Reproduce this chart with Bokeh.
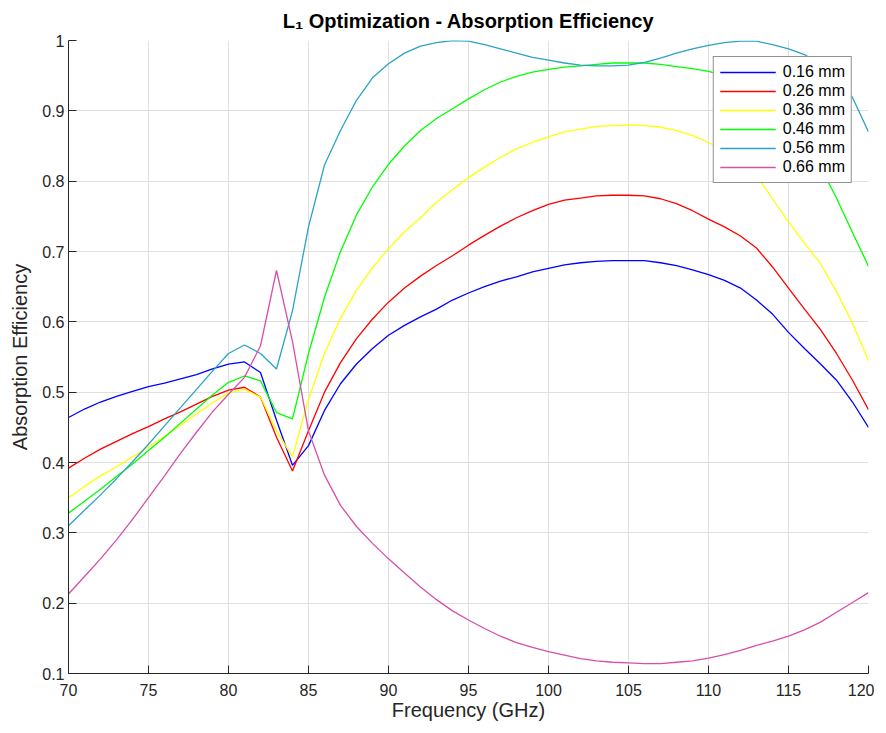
from bokeh.plotting import figure
from bokeh.models import FixedTicker, CustomJSTickFormatter, Legend, LegendItem
from bokeh.embed import file_html
from bokeh.resources import INLINE

freq = list(range(70, 121))

eff_016 = [0.464, 0.476, 0.486, 0.494, 0.501, 0.508, 0.513, 0.519, 0.525, 0.533,
           0.540, 0.543, 0.528, 0.460, 0.396, 0.424, 0.474, 0.512, 0.540, 0.562,
           0.581, 0.595, 0.607, 0.618, 0.631, 0.641, 0.650, 0.658, 0.664, 0.671,
           0.676, 0.681, 0.684, 0.686, 0.687, 0.687, 0.687, 0.684, 0.680, 0.674,
           0.667, 0.659, 0.648, 0.631, 0.611, 0.585, 0.562, 0.540, 0.517, 0.486,
           0.450]
eff_026 = [0.392, 0.406, 0.419, 0.430, 0.441, 0.451, 0.462, 0.472, 0.483, 0.494,
           0.503, 0.507, 0.493, 0.436, 0.388, 0.445, 0.500, 0.542, 0.576, 0.604,
           0.628, 0.648, 0.665, 0.680, 0.694, 0.709, 0.723, 0.736, 0.748, 0.758,
           0.767, 0.773, 0.776, 0.779, 0.780, 0.780, 0.779, 0.775, 0.768, 0.758,
           0.746, 0.735, 0.722, 0.705, 0.678, 0.648, 0.618, 0.589, 0.555, 0.517,
           0.475]
eff_036 = [0.350, 0.366, 0.381, 0.394, 0.408, 0.422, 0.437, 0.453, 0.469, 0.485,
           0.499, 0.504, 0.493, 0.445, 0.408, 0.490, 0.555, 0.605, 0.645, 0.677,
           0.704, 0.728, 0.748, 0.770, 0.788, 0.805, 0.820, 0.834, 0.846, 0.855,
           0.863, 0.870, 0.874, 0.878, 0.879, 0.880, 0.879, 0.877, 0.872, 0.865,
           0.855, 0.843, 0.828, 0.808, 0.775, 0.742, 0.712, 0.683, 0.643, 0.598,
           0.545]
eff_046 = [0.328, 0.345, 0.362, 0.380, 0.398, 0.417, 0.436, 0.456, 0.476, 0.496,
           0.514, 0.523, 0.516, 0.471, 0.462, 0.555, 0.635, 0.700, 0.752, 0.792,
           0.824, 0.850, 0.872, 0.889, 0.903, 0.917, 0.930, 0.941, 0.949, 0.955,
           0.959, 0.962, 0.964, 0.966, 0.968, 0.968, 0.968, 0.966, 0.963, 0.960,
           0.956, 0.950, 0.941, 0.928, 0.910, 0.887, 0.857, 0.820, 0.776, 0.727,
           0.679]
eff_056 = [0.310, 0.332, 0.354, 0.377, 0.401, 0.426, 0.452, 0.478, 0.504, 0.530,
           0.555, 0.567, 0.555, 0.533, 0.616, 0.735, 0.823, 0.872, 0.915, 0.947,
           0.967, 0.982, 0.992, 0.997, 1.000, 0.999, 0.994, 0.988, 0.982, 0.976,
           0.972, 0.968, 0.965, 0.964, 0.964, 0.965, 0.969, 0.975, 0.982, 0.988,
           0.993, 0.997, 0.999, 0.999, 0.994, 0.988, 0.980, 0.966, 0.946, 0.919,
           0.870]
eff_066 = [0.213, 0.238, 0.263, 0.290, 0.319, 0.350, 0.381, 0.413, 0.443, 0.472,
           0.497, 0.521, 0.566, 0.673, 0.572, 0.445, 0.382, 0.339, 0.309, 0.285,
           0.263, 0.243, 0.223, 0.205, 0.189, 0.176, 0.164, 0.153, 0.144, 0.137,
           0.131, 0.126, 0.121, 0.118, 0.116, 0.115, 0.114, 0.114, 0.116, 0.118,
           0.122, 0.127, 0.133, 0.140, 0.146, 0.153, 0.162, 0.173, 0.187, 0.201,
           0.215]

series_labels = ["0.16 mm", "0.26 mm", "0.36 mm", "0.46 mm", "0.56 mm", "0.66 mm"]
series_colors = ["#0000FF", "#FF0000", "#FFFF00", "#00FF00", "#2BA3C5", "#D64FAA"]
series_values = [eff_016, eff_026, eff_036, eff_046, eff_056, eff_066]

x_ticks = [70, 75, 80, 85, 90, 95, 100, 105, 110, 115, 120]
y_ticks = [0.1, 0.2, 0.3, 0.4, 0.5, 0.6, 0.7, 0.8, 0.9, 1.0]
y_tick_labels = ["0.1", "0.2", "0.3", "0.4", "0.5", "0.6", "0.7", "0.8", "0.9", "1"]

title_text = "L\u2081 Optimization - Absorption Efficiency"
x_label = "Frequency (GHz)"
y_label = "Absorption Efficiency"

FONT = "Liberation Sans"
AX = "#262626"

p = figure(frame_width=800, frame_height=633, x_range=(70, 120), y_range=(0.1, 1.0),
           output_backend="svg", toolbar_location=None,
           min_border_left=68, min_border_right=6, min_border_top=40, min_border_bottom=45)

p.background_fill_color = "white"
p.border_fill_color = "white"
p.outline_line_color = None

p.title.text = title_text
p.title.align = "center"
p.title.vertical_align = "top"
p.title.text_font = FONT
p.title.text_font_size = "20px"
p.title.text_font_style = "bold"
p.title.text_color = "#000000"
p.title.standoff = 14

items = []
for vals, lab, col in zip(series_values, series_labels, series_colors):
    r = p.line(freq, vals, line_color=col, line_width=1.3)
    items.append(LegendItem(label=lab, renderers=[r]))

for ax in (p.xaxis[0], p.yaxis[0]):
    ax.axis_line_color = AX
    ax.axis_line_width = 1
    ax.major_tick_line_color = AX
    ax.major_tick_in = 8
    ax.major_tick_out = 0
    ax.minor_tick_line_color = None
    ax.major_label_text_font = FONT
    ax.major_label_text_font_size = "16px"
    ax.major_label_text_color = AX
    ax.axis_label_text_font = FONT
    ax.axis_label_text_font_size = "20px"
    ax.axis_label_text_font_style = "normal"
    ax.axis_label_text_color = AX

p.xaxis.ticker = FixedTicker(ticks=x_ticks)
p.yaxis.ticker = FixedTicker(ticks=y_ticks)
p.yaxis.formatter = CustomJSTickFormatter(
    args=dict(vals=y_ticks, labs=y_tick_labels),
    code="""
    for (let i = 0; i < vals.length; i++) {
        if (Math.abs(vals[i] - tick) < 1e-9) { return labs[i]; }
    }
    return tick.toString();
    """)
p.xaxis.axis_label = x_label
p.yaxis.axis_label = y_label
p.xaxis.major_label_standoff = 10
p.yaxis.major_label_standoff = 4
p.xaxis.axis_label_standoff = 0
p.yaxis.axis_label_standoff = 8

p.xgrid.grid_line_color = "#DFDFDF"
p.ygrid.grid_line_color = "#DFDFDF"
p.xgrid.grid_line_width = 1
p.ygrid.grid_line_width = 1

legend = Legend(items=items, location="top_right", margin=16, padding=6, spacing=1,
                glyph_width=56, glyph_height=18, label_height=18, label_standoff=7,
                label_text_font=FONT, label_text_font_size="16px", label_text_color="#000000",
                border_line_color=AX, border_line_width=1, background_fill_color="white",
                background_fill_alpha=1.0)
p.add_layout(legend)

open("out.html", "w").write(file_html(p, INLINE))
